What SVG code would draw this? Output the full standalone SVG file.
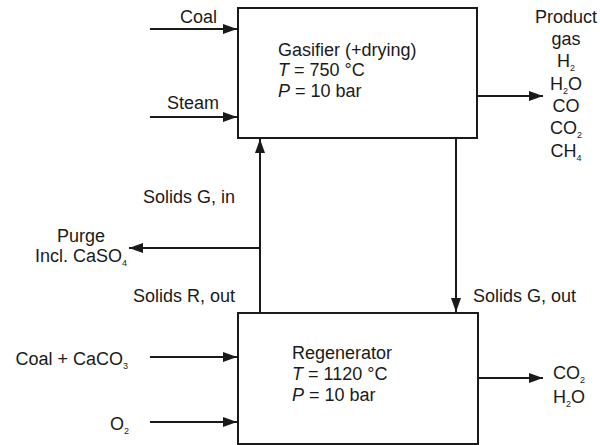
<svg xmlns="http://www.w3.org/2000/svg" width="600" height="445" viewBox="0 0 600 445">
<style>
text{font-family:"Liberation Sans",Arial,Helvetica,sans-serif;font-size:18px;fill:#1a1a1a}
.sub{font-size:9px}
.box{fill:#fff;stroke:#1a1a1a;stroke-width:2}
.ln{stroke:#1a1a1a;stroke-width:2;fill:none}
</style>
<defs>
<marker id="ah" viewBox="0 0 14 10" refX="14" refY="5" markerWidth="14" markerHeight="10" markerUnits="userSpaceOnUse" orient="auto">
<path d="M0,0 L14,5 L0,10 z" fill="#1a1a1a"/>
</marker>
</defs>
<rect width="600" height="445" fill="#fff"/>
<g id="connectors">
<line class="ln" x1="150" y1="29" x2="237" y2="29" marker-end="url(#ah)"/>
<line class="ln" x1="150" y1="117" x2="237" y2="117" marker-end="url(#ah)"/>
<line class="ln" x1="478" y1="96" x2="543" y2="96" marker-end="url(#ah)"/>
<line class="ln" x1="260" y1="313" x2="260" y2="139" marker-end="url(#ah)"/>
<line class="ln" x1="260" y1="248" x2="129" y2="248" marker-end="url(#ah)"/>
<line class="ln" x1="456" y1="138" x2="456" y2="312" marker-end="url(#ah)"/>
<line class="ln" x1="150" y1="357" x2="237" y2="357" marker-end="url(#ah)"/>
<line class="ln" x1="150" y1="422" x2="237" y2="422" marker-end="url(#ah)"/>
<line class="ln" x1="478" y1="378" x2="543" y2="378" marker-end="url(#ah)"/>
</g>
<g id="gasifier">
<rect class="box" x="238" y="8" width="239" height="130"/>
<text x="278" y="56">Gasifier (+drying)</text>
<text x="278" y="76"><tspan font-style="italic">T</tspan> = 750 °C</text>
<text x="278" y="97"><tspan font-style="italic">P</tspan> = 10 bar</text>
</g>
<g id="regenerator">
<rect class="box" x="238" y="313" width="240" height="131"/>
<text x="292" y="359">Regenerator</text>
<text x="292" y="380"><tspan font-style="italic">T</tspan> = 1120 °C</text>
<text x="292" y="401"><tspan font-style="italic">P</tspan> = 10 bar</text>
</g>
<g id="coal-in"><text x="180" y="23">Coal</text></g>
<g id="steam-in"><text x="167" y="109">Steam</text></g>
<g id="product-gas">
<text x="566" y="23" text-anchor="middle">Product</text>
<text x="566" y="45" text-anchor="middle">gas</text>
<text x="566" y="67" text-anchor="middle">H<tspan class="sub" dy="4">2</tspan></text>
<text x="566" y="90" text-anchor="middle">H<tspan class="sub" dy="4">2</tspan><tspan dy="-4">O</tspan></text>
<text x="566" y="112" text-anchor="middle">CO</text>
<text x="566" y="134" text-anchor="middle">CO<tspan class="sub" dy="4">2</tspan></text>
<text x="566" y="157" text-anchor="middle">CH<tspan class="sub" dy="4">4</tspan></text>
</g>
<g id="solids-g-in"><text x="235" y="203" text-anchor="end">Solids G, in</text></g>
<g id="purge">
<text x="81" y="242" text-anchor="middle">Purge</text>
<text x="81" y="262" text-anchor="middle">Incl. CaSO<tspan class="sub" dy="4">4</tspan></text>
</g>
<g id="solids-r-out"><text x="235" y="302" text-anchor="end">Solids R, out</text></g>
<g id="solids-g-out"><text x="473" y="302">Solids G, out</text></g>
<g id="coal-caco3-in"><text x="128" y="365" text-anchor="end">Coal + CaCO<tspan class="sub" dy="4">3</tspan></text></g>
<g id="o2-in"><text x="129" y="430" text-anchor="end">O<tspan class="sub" dy="4">2</tspan></text></g>
<g id="regen-out">
<text x="553" y="379">CO<tspan class="sub" dy="4">2</tspan></text>
<text x="553" y="403">H<tspan class="sub" dy="4">2</tspan><tspan dy="-4">O</tspan></text>
</g>
</svg>
